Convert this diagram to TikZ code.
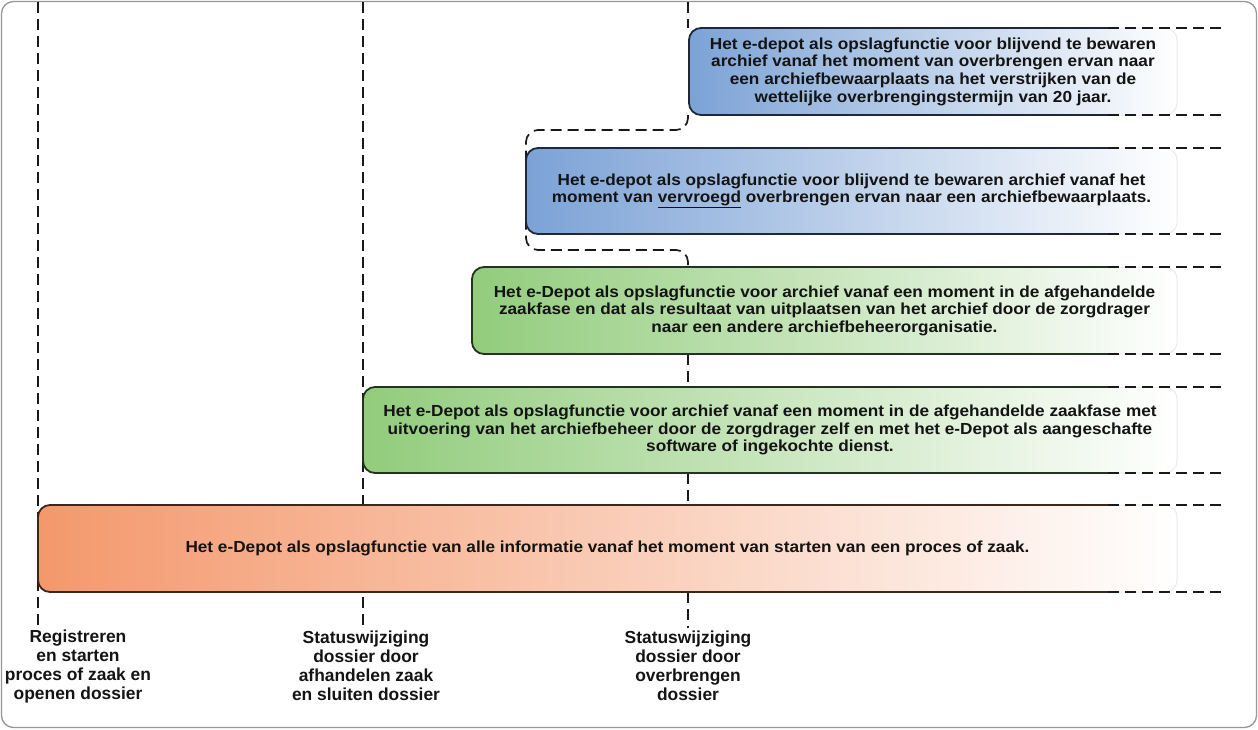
\documentclass[tikz,border=0pt]{standalone}
\usepackage{fontspec}
\newfontfamily\boxfont{Liberation Sans}[FakeStretch=1.075]
\newfontfamily\labfont{Liberation Sans}
\usetikzlibrary{calc}
\definecolor{bluel}{RGB}{124,162,214}
\definecolor{greenl}{RGB}{146,204,124}
\definecolor{orangel}{RGB}{244,152,108}
\definecolor{frameg}{RGB}{150,150,150}
\definecolor{txt}{RGB}{20,20,20}
\tikzset{
  guide/.style={line width=1.7pt, dash pattern=on 11pt off 6pt, black!90},
  boxtext/.style={font=\boxfont\bfseries\fontsize{16}{17.6}\selectfont, text=txt, align=center, inner sep=0pt, outer sep=0pt, rounded corners=12pt},
  labtext/.style={font=\labfont\bfseries\fontsize{17.4}{19}\selectfont, text=txt, align=center, inner sep=0pt}
}
\newcommand{\phasebox}[7]{%
  \node[boxtext, left color=#6, right color=white,
        minimum width={(#4-#2)*1pt}, minimum height={(#5-#3)*1pt}]
        (#1) at ({(#2+#4)/2},{(#3+#5)/2}) {#7};
  \begin{scope}
    \clip (0,0) rectangle (1108,729);
    \draw[line width=1.8pt, draw=#6!25!black, rounded corners=12pt] (#1.north west) rectangle (#1.south east);
  \end{scope}
  \begin{scope}
    \clip (1108,0) rectangle (1258,729);
    \draw[line width=1pt, draw=black!8, rounded corners=12pt] (#1.north west) rectangle (#1.south east);
  \end{scope}
  \path (1108,#3) coordinate (#1-ts) (1225,#3) coordinate (#1-te)
        (1108,#5) coordinate (#1-bs) (1225,#5) coordinate (#1-be);
  \draw[guide] (#1-ts) -- (#1-te);
  \draw[guide] (#1-bs) -- (#1-be);
}
\begin{document}
\begin{tikzpicture}[x=1pt,y=-1pt]
\useasboundingbox (0,0) rectangle (1258,729);
\fill[white] (0,0) rectangle (1258,729);
\draw[frameg, line width=1.3pt, rounded corners=12pt] (1.5,1.5) rectangle (1256.5,727.5);

% guide lines
\path (38,2) coordinate (g1t) (38,628) coordinate (g1b)
      (363,2) coordinate (g2t) (363,628) coordinate (g2b)
      (688,2) coordinate (g3t) (688,28) coordinate (g3m)
      (688,354) coordinate (g3c) (688,628) coordinate (g3b)
      (688,115) coordinate (brs) (526,130) coordinate (brl) (688,250) coordinate (brr) (688,267) coordinate (bre);
\draw[guide] (g1t) -- (g1b);
\draw[guide] (g2t) -- (g2b);
\draw[guide] (g3t) -- (g3m);
\draw[guide] (g3c) -- (g3b);
\draw[guide, rounded corners=12pt] (brs) |- (brl) |- (brr) -- (bre);

\phasebox{b1}{689}{28}{1177}{115}{bluel}{Het e-depot als opslagfunctie voor blijvend te bewaren\\archief vanaf het moment van overbrengen ervan naar\\een archiefbewaarplaats na het verstrijken van de\\wettelijke overbrengingstermijn van 20 jaar.}
\phasebox{b2}{526}{148}{1177}{234}{bluel}{Het e-depot als opslagfunctie voor blijvend te bewaren archief vanaf het\\moment van \underline{vervroegd} overbrengen ervan naar een archiefbewaarplaats.}
\phasebox{b3}{472}{267}{1177}{354}{greenl}{Het e-Depot als opslagfunctie voor archief vanaf een moment in de afgehandelde\\zaakfase en dat als resultaat van uitplaatsen van het archief door de zorgdrager\\naar een andere archiefbeheerorganisatie.}
\phasebox{b4}{363}{387}{1177}{473}{greenl}{Het e-Depot als opslagfunctie voor archief vanaf een moment in de afgehandelde zaakfase met\\uitvoering van het archiefbeheer door de zorgdrager zelf en met het e-Depot als aangeschafte\\software of ingekochte dienst.}
\phasebox{b5}{38}{505}{1177}{592}{orangel}{Het e-Depot als opslagfunctie van alle informatie vanaf het moment van starten van een proces of zaak.}

\node[labtext] (l1) at (78,666) {Registreren\\en starten\\proces of zaak en\\openen dossier};
\node[labtext] (l2) at (366,666) {Statuswijziging\\dossier door\\afhandelen zaak\\en sluiten dossier};
\node[labtext] (l3) at (688,666) {Statuswijziging\\dossier door\\overbrengen\\dossier};
\end{tikzpicture}
\end{document}
